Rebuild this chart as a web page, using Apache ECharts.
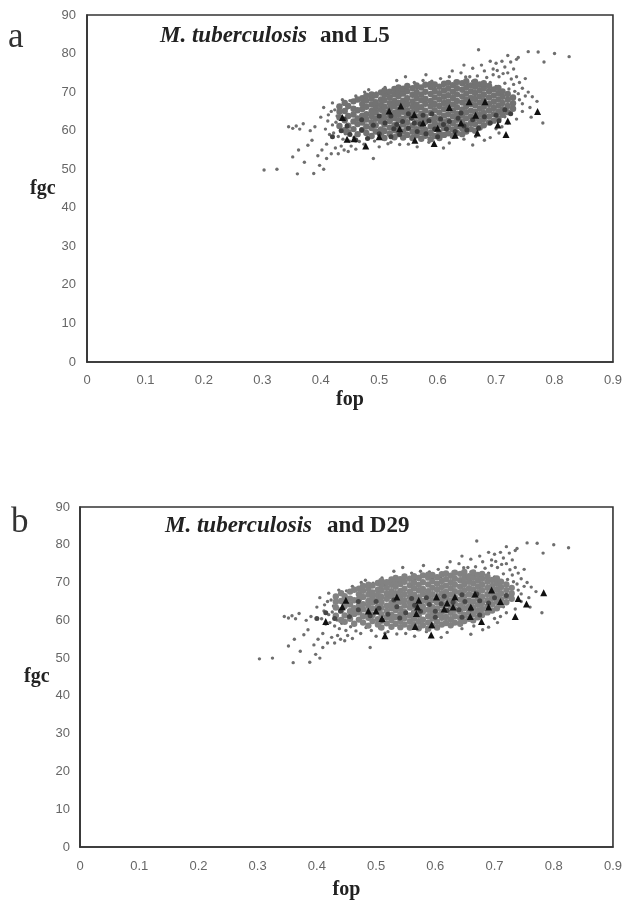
<!DOCTYPE html>
<html><head><meta charset="utf-8">
<style>html,body{margin:0;padding:0;background:#fff}#c{width:625px;height:901px;filter:blur(0.55px)}</style>
<script src="https://cdn.jsdelivr.net/npm/echarts@6/dist/echarts.min.js"></script>
</head><body><div id="c"></div>
<script>
const xTicks = [0,0.1,0.2,0.3,0.4,0.5,0.6,0.7,0.8,0.9];
const panelTitles = ["and L5","and D29"];
// outlying M. tuberculosis genes [fop, fgc]
const sparseGenes = [
[.303,49.8],[.325,50],[.345,61],[.352,60.6],[.358,61.2],[.364,60.4],[.37,61.8],[.352,53.2],[.362,55],[.36,48.8],[.372,51.8],[.378,56.2],[.385,57.5],[.382,60],[.39,61],[.388,48.9],[.395,53.5],[.398,51],[.402,55],[.405,50],[.41,56.5],[.41,52.8],[.418,54],[.415,59],[.42,61.5],[.425,55.5],[.43,54],[.43,58.5],[.435,56],[.44,55],[.447,54.6],[.452,56],[.46,55.2],[.49,52.8],[.40,63.5],[.405,66],[.412,62.5],[.418,65],[.42,67.2],[.428,63.8],[.43,66.2],[.437,68],[.445,65.8],[.45,67.8],[.46,69],[.465,68.2],[.475,70],[.482,70.6],[.495,69.8],[.51,71.2],[.525,71],[.53,73],[.545,74],[.56,72.5],[.575,73],[.58,74.5],[.59,72.8],[.605,73.5],[.62,74],[.625,75.5],[.64,75],[.655,74],[.66,76.2],[.645,77],[.67,81],[.675,77],[.68,75.5],[.69,78],[.695,76],[.70,77.5],[.705,74],[.71,78],[.715,76.5],[.72,75],[.725,77.8],[.73,76],[.735,78.5],[.735,74],[.74,72.5],[.745,71],[.75,73.5],[.755,70],[.762,68.8],[.77,67.6],[.758,66],[.76,63.5],[.78,62],[.745,65],[.735,63],[.72,62],[.71,61],[.70,60.5],[.68,57.5],[.66,56.3],[.62,56.8],[.61,55.5],[.72,79.5],[.738,79],[.755,80.5],[.772,80.4],[.80,80],[.825,79.2],[.782,77.8],[.70,71.5],[.715,72.3],[.73,72],[.74,68],[.75,69],[.732,70.2],[.745,67],[.712,68.8],[.69,72.5],[.675,72],[.66,72.8],[.65,72.2],[.63,72.8],[.515,69.5],[.54,70.6],[.565,71],[.595,71],[.61,71.6],[.50,55.8],[.52,57],[.535,56.4],[.55,56.5],[.565,55.8],[.585,57],[.645,57.8],[.665,58.5],[.69,58.2],
[.408,60.4],[.413,64.1],[.422,59.4],[.426,62.2],[.424,65.4],[.434,60.1],[.438,57.8],[.442,59.2],[.449,57.3],[.457,58.3],[.466,57.2],[.474,56.5],[.483,58.1],[.492,57.3],[.506,58],[.515,56.6],[.695,74.5],[.702,75.6],[.684,73.8],[.668,74.2],[.648,73.9],[.726,73.4],[.712,74.8],[.722,70.8],[.738,69.6],[.728,66.4],[.715,63.6],[.705,59.4]
];
// dense M. tuberculosis gene cloud: one row per fop value, with its fgc values
const coreFop = [.432,.441,.447,.456,.463,.471,.478,.487,.494,.503,.509,.518,.526,.533,.541,.548,.557,.564,.572,.579,.588,.595,.603,.611,.618,.626,.633,.642,.649,.657,.664,.672,.679,.688,.696,.704,.711,.72,.729];
const coreFgc = [
[61.2,63.4,64.9,66.3],
[60.1,62.7,65.1,67.2],
[59.6,61.3,63.8,66.4],
[60.4,62.4,64.2,65.7,67.6],
[59.1,61.7,63.2,65.3,68.1],
[60.2,62.1,63.9,65.6,66.9,68.4],
[59.4,61.1,62.9,64.3,66.2,67.8,69.1],
[58.6,60.7,62.2,63.8,65.1,66.8,68.3,69.4],
[59.8,61.4,63.1,64.7,66.1,67.4,69.2],
[58.9,60.3,62.4,63.6,65.4,66.7,68.1,69.9],
[58.1,59.9,61.6,63.3,64.8,66.2,67.9,69.3,70.4],
[59.2,60.8,62.5,63.9,65.7,67.1,68.6,70.1],
[58.3,60.1,61.4,63.2,64.6,66.3,67.7,69.4,70.8],
[59.1,60.9,62.7,64.2,65.5,67.2,68.9,70.3,71.2],
[58.2,59.8,61.6,63.1,64.9,66.4,67.8,69.6,70.9],
[58.9,60.6,62.2,63.9,65.3,66.9,68.4,70.2,71.6],
[58.1,59.7,61.3,63.4,64.7,66.2,67.6,69.3,71],
[58.8,60.4,62.1,63.7,65.4,66.8,68.5,70,71.7],
[57.9,59.6,61.2,62.9,64.4,66.1,67.9,69.4,71.2],
[58.7,60.2,62.3,63.6,65.2,67,68.3,70.1,71.9],
[57.8,59.4,61.1,62.8,64.6,66.3,67.7,69.5,71.3,72.1],
[58.6,60.5,62,63.5,65.3,66.9,68.6,70.3,72],
[58.1,59.6,61.4,63.1,64.7,66.4,68.1,69.7,71.4],
[58.9,60.7,62.2,63.9,65.6,67.2,68.8,70.4,72.2],
[59.3,60.9,62.6,64.3,66,67.5,69.2,70.9,72.4],
[58.7,60.3,62,63.7,65.2,66.8,68.5,70.1,71.8],
[59.4,61.1,62.8,64.4,66.1,67.7,69.4,71,72.6],
[59.1,60.6,62.3,63.9,65.5,67.3,68.9,70.6,72.3],
[59.8,61.4,63.2,64.8,66.4,68,69.6,71.2,72.8],
[60.4,62,63.6,65.2,66.9,68.5,70.2,71.7],
[60,61.7,63.3,64.9,66.6,68.2,69.8,71.4,72.7],
[60.8,62.5,64.1,65.7,67.3,68.9,70.5,72],
[61.4,63,64.6,66.2,67.9,69.4,71,72.3],
[62.1,63.7,65.3,66.9,68.6,70.2,71.6],
[62.6,64.3,65.9,67.5,69.1,70.7],
[63.2,64.9,66.5,68.1,69.7,71.1],
[64.1,65.6,67.2,68.8,70.2],
[64.8,66.4,68,69.5],
[65.7,67.1,68.6]
];
// darker L5 gene dots, lower part of the cloud in panel a
const l5Dots = [
[.42,58.4],[.435,60],[.445,61.2],[.45,59],[.46,57.6],[.47,60.2],[.48,58],[.49,61.4],[.50,59.2],[.51,62],[.52,58.4],[.525,60.5],[.535,59],[.54,62.4],[.55,60.6],[.555,63.2],[.565,59.8],[.57,61.8],[.58,59.2],[.585,62.6],[.595,60.4],[.60,58.4],[.605,63],[.615,60.4],[.62,62.4],[.63,59.8],[.635,63.2],[.645,61.2],[.65,60.2],[.66,62.8],[.67,60.6],[.68,63.6],[.69,62],[.70,64],[.705,62.6],[.715,65.4],[.725,64.4],[.53,61.6],[.56,62],[.575,64],[.59,64.4],[.61,61.6],[.55,64.4],[.52,63.8],[.64,64.6],[.44,63],[.47,62.8],[.50,63.8]
];
// darker D29 gene dots, central band of the cloud in panel b
const d29Dots = [
[.40,60.5],[.415,62],[.43,60.5],[.44,62.4],[.455,61],[.47,62.8],[.49,61.2],[.505,63.2],[.52,61.6],[.535,63.6],[.55,62],[.565,64],[.575,62.4],[.59,64.2],[.60,62.4],[.61,64.4],[.62,62.6],[.63,64.8],[.64,62.8],[.65,65],[.66,63],[.675,65.2],[.69,64.6],[.70,66],[.72,66.6],[.53,65.4],[.56,65.8],[.585,66],[.615,66.4],[.645,66.8],[.67,67],[.50,65],[.47,65],[.51,60],[.54,60.6],[.60,60.8],[.645,60.8],[.675,61.4]
];
const l5Triangles = [
[.437,63.4],[.445,57.8],[.457,57.9],[.477,56],[.517,65.1],[.537,66.4],[.561,57.5],[.594,56.7],[.654,67.5],[.681,67.5],[.771,65],[.717,59],[.703,61.5],[.665,64],[.62,66],[.575,62],[.535,60.5],[.63,58.8],[.668,59.4],[.72,62.5],[.60,60.6],[.64,62],[.56,64.2],[.50,58.4]
];
const d29Triangles = [
[.783,67.3],[.754,64.3],[.735,61],[.74,65.8],[.593,56.1],[.515,55.9],[.566,58.4],[.594,58.8],[.678,59.7],[.659,61],[.449,65.3],[.415,59.7],[.443,63.6],[.535,66.2],[.572,65.3],[.602,66.2],[.633,66.2],[.667,67],[.695,68],[.57,63.5],[.615,63],[.63,63.5],[.50,62.5],[.51,60.5],[.487,62.5],[.568,61.8],[.62,64.6],[.69,63.5],[.66,63.5],[.71,65]
];
const coreGenes = coreFop.flatMap((x,i)=>coreFgc[i].map(y=>[x,y]));

const grids = [
  {left:87,top:15,width:528,height:347},
  {left:80,top:507,width:534,height:344}
];
const axisBase = {
  min:0, splitLine:{show:false},
  axisLine:{show:true,onZero:false,lineStyle:{color:'#333',width:1.6}},
  axisTick:{show:false},
  axisLabel:{fontFamily:'Liberation Sans',fontSize:13,color:'#666',showMinLabel:true,showMaxLabel:true}
};
const nameStyle = {fontFamily:'Liberation Serif',fontWeight:'bold',fontSize:20,color:'#222'};
const xAxes = [0,1].map(i=>({...axisBase,gridIndex:i,type:'value',max:0.9,interval:0.1,name:'fop',
  nameLocation:'middle',nameGap:i?33:28,nameTextStyle:nameStyle,
  axisLabel:{...axisBase.axisLabel,margin:i?13:12,formatter:v=>xTicks[Math.round(v*10)]}}));
const yAxes = [0,1].map(i=>({...axisBase,gridIndex:i,type:'value',max:90,interval:10,name:'fgc',
  nameLocation:'middle',nameRotate:0,nameGap:30,nameTextStyle:{...nameStyle,padding:[i?8:6,0,0,0]},
  axisLabel:{...axisBase.axisLabel,margin:i?10:11}}));
const pts = (name,data,i,symbol,size,color,z) => ({name,type:'scatter',xAxisIndex:i,yAxisIndex:i,data,symbol,symbolSize:size,
  itemStyle:{color,opacity:1},z,silent:true,animation:false});
const series = [
  pts('genes',sparseGenes,0,'circle',3.4,'#6e6e6e',2),
  pts('core',coreGenes,0,'circle',6.4,'#727272',3),
  pts('L5 genes',l5Dots,0,'circle',5,'#3f3f3f',4),
  pts('L5',l5Triangles,0,'triangle',7,'#111',5),
  pts('genes',sparseGenes,1,'circle',3.4,'#6e6e6e',2),
  pts('core',coreGenes,1,'circle',6.4,'#828282',3),
  pts('D29 genes',d29Dots,1,'circle',5,'#474747',4),
  pts('D29',d29Triangles,1,'triangle',7,'#111',5)
];
const titleStyle = {fontFamily:'Liberation Serif',fontSize:23,fontWeight:'bold',fill:'#222'};
const graphic = [
  {type:'text',left:8,top:20,style:{text:'a',fontFamily:'Liberation Serif',fontSize:35,fill:'#333'}},
  {type:'text',left:11,top:505,style:{text:'b',fontFamily:'Liberation Serif',fontSize:35,fill:'#333'}},
  {type:'text',left:160,top:25,style:{...titleStyle,text:'M. tuberculosis',fontStyle:'italic'}},
  {type:'text',left:320,top:25,style:{...titleStyle,text:panelTitles[0]}},
  {type:'text',left:165,top:515,style:{...titleStyle,text:'M. tuberculosis',fontStyle:'italic'}},
  {type:'text',left:327,top:515,style:{...titleStyle,text:panelTitles[1]}}
];
const chart = echarts.init(document.getElementById('c'),null,{renderer:'canvas'});
chart.setOption({animation:false,backgroundColor:'#fff',
  grid:grids.map(g=>({...g,show:true,borderColor:'#333',borderWidth:1.6,backgroundColor:'transparent'})),
  xAxis:xAxes,yAxis:yAxes,series,graphic});
</script></body></html>
